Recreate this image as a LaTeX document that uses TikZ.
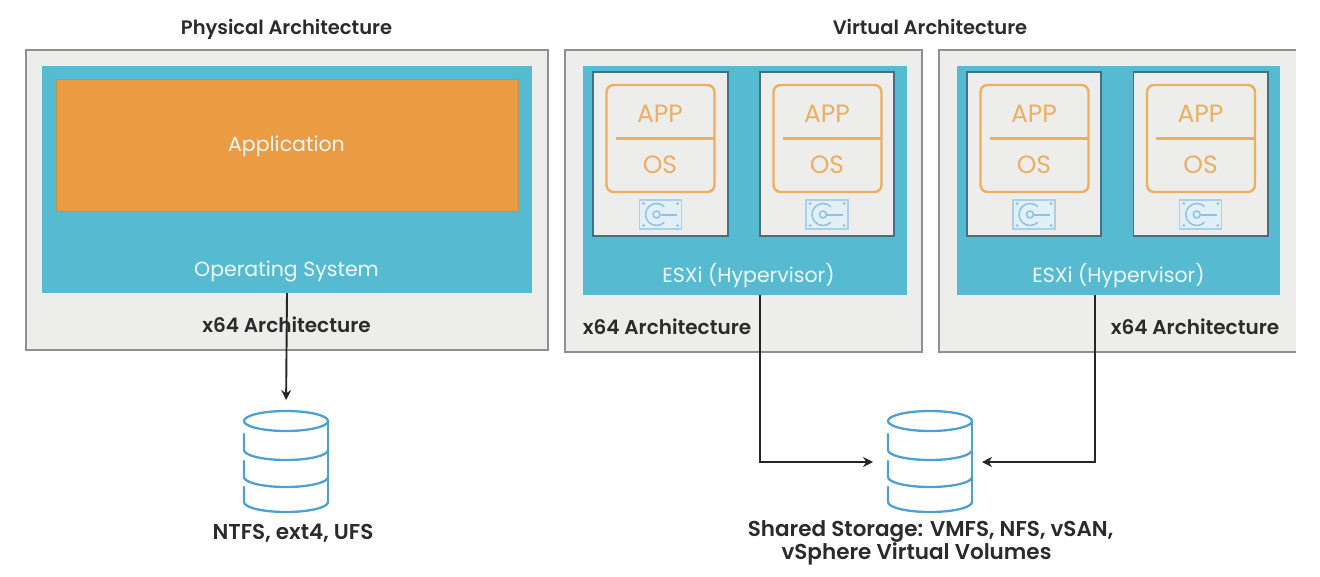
\documentclass[tikz,border=0pt]{standalone}
\usepackage{fontspec}
\setmainfont[BoldFont={Poppins SemiBold}]{Poppins}
\usetikzlibrary{arrows.meta,positioning,calc}
\definecolor{hostgray}{HTML}{EDEDEC}
\definecolor{hostline}{HTML}{8E9090}
\definecolor{teal1}{HTML}{56BBD0}
\definecolor{orange1}{HTML}{EB9C42}
\definecolor{appline}{HTML}{EDAE5F}
\definecolor{vmline}{HTML}{45707F}
\definecolor{dbblue}{HTML}{4F9FD3}
\definecolor{iconblue}{HTML}{A9D0E8}
\definecolor{txtdark}{HTML}{2B2B2B}
\tikzset{
  x=1pt,y=-1pt,
  box/.style={inner sep=0pt,outer sep=0pt,anchor=north west},
  hostbox/.style={box,draw=hostline,line width=1.4pt,fill=hostgray},
  tealbox/.style={box,fill=teal1},
  orangebox/.style={box,fill=orange1,draw=orange1!80!teal1!90!black,line width=0.8pt},
  vmbox/.style={box,fill=hostgray,draw=vmline,line width=1.5pt},
  appbox/.style={box,draw=appline,line width=2.4pt,rounded corners=7pt},
  titletxt/.style={font=\fontsize{19.5}{23}\selectfont\bfseries,text=txtdark,inner sep=0pt},
  labeltxt/.style={font=\fontsize{20}{21}\selectfont\bfseries,text=txtdark,inner sep=0pt},
  storetxt/.style={font=\fontsize{21.5}{21}\selectfont\bfseries,text=txtdark,inner sep=0pt},
  whitetxt/.style={font=\fontsize{20.5}{24}\selectfont,text=white!90!teal1,inner sep=0pt},
  apptxt/.style={font=\fontsize{25}{28}\selectfont,text=appline,inner sep=0pt},
  conn/.style={draw=black!85,line width=1.9pt,-{Stealth[length=10pt,width=10pt]}},
  dbnode/.style={minimum width=84pt,minimum height=100pt,inner sep=0pt,outer sep=0pt},
}
\newcommand{\vmunit}[3]{% left x of VM, name, width
  \node[vmbox,minimum width=#3pt,minimum height=164pt] (vm#2) at (#1,72) {};
  \node[appbox,minimum width=108pt,minimum height=107pt] (app#2) at ($(vm#2.north west)+(13.5,13)$) {};
  \draw[draw=appline,line width=2.4pt] ($(app#2.west)+(9,0)$) -- (app#2.east);
  \node[apptxt] (apptext#2) at ($(app#2.north)+(-0.5,29)$) {APP};
  \node[apptxt] (ostext#2) at ($(app#2.north)+(-0.5,79.5)$) {OS};
  \node[box,fill=iconblue!35,draw=iconblue,line width=1.4pt,minimum width=42pt,minimum height=29pt,anchor=center] (disk#2) at ($(vm#2.north)+(0,142.5)$) {};
  \draw[iconblue!70!dbblue,line width=1.5pt] ($(disk#2.center)+(3.8,-7.8)$) arc[start angle=45,end angle=315,radius=11pt];
  \draw[iconblue!70!dbblue,line width=1.5pt] ($(disk#2.center)+(-4,0)$) circle[radius=3.5pt];
  \draw[iconblue!70!dbblue,line width=2pt] ($(disk#2.center)+(0,0)$) -- ($(disk#2.center)+(16,0)$);
  \foreach \dx/\dy in {-17/-11,17/-11,-17/11,17/11}
    \fill[iconblue!70!dbblue] ($(disk#2.center)+(\dx,\dy)$) circle[radius=1.5pt];
}
\newcommand{\dbshape}[2]{% name, center x
  \node[dbnode] (#1) at (#2,462) {};
  \begin{scope}[dbblue,line width=2.3pt,line cap=round]
    \draw ($(#1.north)+(0,9)$) ellipse[x radius=42pt,y radius=10pt];
    \draw ($(#1.north east)+(0,9)$) -- ++(0,81);
    \draw ($(#1.north west)+(0,22)$) -- ++(0,16) arc[start angle=180,end angle=360,x radius=42pt,y radius=10pt];
    \draw ($(#1.north west)+(0,49)$) -- ++(0,16) arc[start angle=180,end angle=360,x radius=42pt,y radius=10pt];
    \draw ($(#1.north west)+(0,75)$) -- ++(0,15) arc[start angle=180,end angle=360,x radius=42pt,y radius=10pt];
  \end{scope}
}
\begin{document}
\begin{tikzpicture}
\useasboundingbox (0,0) rectangle (1320,576);
% Physical
\node[titletxt] (tphys) at (286.5,29.5) {Physical Architecture};
\node[hostbox,minimum width=522pt,minimum height=300pt] (hostL) at (26,50) {};
\node[tealbox,minimum width=490pt,minimum height=227pt] (os) at (42,66) {};
\node[orangebox,minimum width=462pt,minimum height=132pt] (appl) at (56,79) {};
\node[whitetxt] (tappl) at (286.5,146) {Application};
\node[whitetxt] (tos) at (286.5,271) {Operating System};
\node[labeltxt] (tx1) at (286.5,325) {x64 Architecture};
% Virtual
\node[titletxt] (tvirt) at (930,27) {Virtual Architecture};
\node[hostbox,minimum width=357pt,minimum height=302pt] (hostM) at (565,50) {};
\node[hostbox,minimum width=358pt,minimum height=302pt] (hostR) at (939,50) {};
\node[tealbox,minimum width=324pt,minimum height=229pt] (esxa) at (583,66) {};
\node[tealbox,minimum width=323pt,minimum height=229pt] (esxb) at (957,66) {};
\vmunit{593}{a}{135}
\vmunit{760}{b}{134}
\vmunit{967}{c}{134}
\vmunit{1133.5}{d}{134.5}
\node[whitetxt] (tea) at (748.5,276) {ESXi (Hypervisor)};
\node[whitetxt] (teb) at (1118.5,276) {ESXi (Hypervisor)};
\node[labeltxt] (tx2) at (667,327) {x64 Architecture};
\node[labeltxt] (tx3) at (1195,327) {x64 Architecture};
% clip the right host at the image's cropped edge
\fill[white] (1296,40) rectangle (1320,360);
% Storage
\dbshape{dbL}{286}
\dbshape{dbR}{930}
\node[storetxt] (tdbL) at (293,533) {NTFS, ext4, UFS};
\node[storetxt,align=center] (tdbR) at (930.5,543) {Shared Storage: VMFS, NFS, vSAN,\\vSphere Virtual Volumes\hspace*{28pt}};
% Connectors
\coordinate (elbowA) at (760,400);
\coordinate (elbowB) at (1095,400);
\draw[conn,shorten >=12pt] (os.south) -- (dbL.north);
\draw[conn,shorten >=15pt] (esxa.south -| elbowA) |- (dbR.west);
\draw[conn,shorten >=10pt] (esxb.south -| elbowB) |- (dbR.east);
\end{tikzpicture}
\end{document}
